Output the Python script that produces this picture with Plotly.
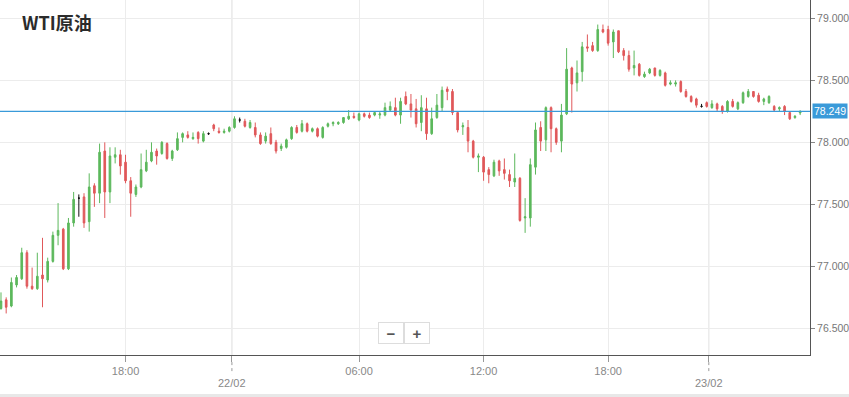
import plotly.graph_objects as go

title_text = "WTI原油"
last_price = 78.249

opens = [76.66, 76.73, 76.68, 76.85, 76.90, 77.11, 76.84, 76.82, 76.93, 76.89,
         77.04, 77.25, 77.30, 76.98, 77.35, 77.55, 77.56, 77.36, 77.65, 77.59,
         77.93, 77.60, 77.88, 77.90, 77.84, 77.69, 77.58, 77.64, 77.77, 77.85,
         77.93, 77.91, 77.99, 77.87, 77.94, 78.04, 78.06, 78.03, 78.08, 78.01,
         78.07, 78.14, 78.09, 78.08, 78.09, 78.12, 78.18, 78.17, 78.12, 78.12,
         78.06, 78.01, 78.07, 78.00, 77.95, 77.96, 78.03, 78.12, 78.09, 78.15,
         78.09, 78.11, 78.04, 78.13, 78.15, 78.15, 78.16, 78.19, 78.21, 78.18,
         78.23, 78.22, 78.22, 78.22, 78.22, 78.26, 78.28, 78.22, 78.37, 78.31,
         78.27, 78.16, 78.27, 78.07, 78.20, 78.28, 78.43, 78.41, 78.24, 78.125,
         78.12, 78.01, 77.88, 77.88, 77.78, 77.73, 77.85, 77.78, 77.74, 77.68,
         77.71, 77.39, 77.39, 77.80, 78.12, 78.02, 78.28, 78.11, 78.01, 78.23,
         78.60, 78.48, 78.57, 78.77, 78.78, 78.74, 78.91, 78.91, 78.81, 78.90,
         78.74, 78.70, 78.60, 78.63, 78.53, 78.56, 78.60, 78.54, 78.56, 78.47,
         78.47, 78.49, 78.41, 78.37, 78.35, 78.29, 78.32, 78.28, 78.31, 78.29,
         78.25, 78.33, 78.27, 78.32, 78.37, 78.41, 78.38, 78.33, 78.32, 78.29,
         78.27, 78.29, 78.24, 78.20, 78.237]
highs = [76.79, 76.75, 76.91, 76.93, 77.15, 77.13, 76.99, 77.11, 77.23, 77.07,
         77.28, 77.51, 77.31, 77.39, 77.60, 77.58, 77.59, 77.75, 77.67, 77.99,
         78.00, 77.96, 77.96, 77.94, 77.90, 77.72, 77.66, 77.91, 77.94, 78.00,
         77.95, 78.01, 78.00, 77.94, 78.08, 78.08, 78.09, 78.08, 78.09, 78.09,
         78.08, 78.15, 78.12, 78.11, 78.13, 78.21, 78.20, 78.19, 78.18, 78.16,
         78.08, 78.08, 78.12, 78.02, 77.99, 78.03, 78.13, 78.14, 78.18, 78.16,
         78.12, 78.12, 78.13, 78.16, 78.17, 78.17, 78.20, 78.26, 78.24, 78.24,
         78.24, 78.24, 78.25, 78.25, 78.32, 78.33, 78.36, 78.36, 78.41, 78.39,
         78.35, 78.38, 78.36, 78.28, 78.39, 78.45, 78.45, 78.43, 78.24, 78.16,
         78.18, 78.02, 77.91, 77.89, 77.80, 77.86, 77.86, 77.87, 77.78, 77.91,
         77.72, 77.55, 77.87, 78.16, 78.17, 78.29, 78.29, 78.12, 78.31, 78.76,
         78.61, 78.66, 78.81, 78.87, 78.81, 78.95, 78.95, 78.94, 78.91, 78.90,
         78.76, 78.74, 78.74, 78.64, 78.57, 78.60, 78.60, 78.59, 78.57, 78.50,
         78.50, 78.50, 78.43, 78.38, 78.36, 78.31, 78.33, 78.34, 78.32, 78.30,
         78.34, 78.35, 78.33, 78.41, 78.43, 78.41, 78.40, 78.36, 78.38, 78.30,
         78.29, 78.30, 78.24, 78.22, 78.26]
lows = [76.65, 76.62, 76.67, 76.83, 76.89, 76.82, 76.81, 76.81, 76.67, 76.87,
        77.03, 77.17, 76.97, 76.97, 77.32, 77.40, 77.31, 77.28, 77.48, 77.51,
        77.39, 77.51, 77.83, 77.74, 77.67, 77.40, 77.56, 77.63, 77.76, 77.84,
        77.82, 77.90, 77.86, 77.85, 77.93, 78.00, 78.03, 78.02, 77.99, 78.00,
        78.06, 78.09, 78.07, 78.07, 78.08, 78.11, 78.16, 78.12, 78.11, 78.04,
        77.98, 77.99, 77.98, 77.91, 77.93, 77.95, 78.02, 78.07, 78.08, 78.08,
        78.08, 78.04, 78.03, 78.12, 78.13, 78.14, 78.15, 78.18, 78.19, 78.17,
        78.20, 78.19, 78.21, 78.19, 78.21, 78.25, 78.21, 78.15, 78.30, 78.20,
        78.12, 78.09, 78.02, 78.06, 78.19, 78.25, 78.34, 78.22, 78.08, 78.06,
        77.92, 77.87, 77.76, 77.69, 77.67, 77.72, 77.73, 77.70, 77.64, 77.64,
        77.36, 77.27, 77.32, 77.74, 77.93, 77.93, 77.92, 77.98, 77.92, 78.22,
        78.24, 78.41, 78.49, 78.73, 78.73, 78.73, 78.88, 78.78, 78.68, 78.72,
        78.66, 78.57, 78.54, 78.53, 78.52, 78.55, 78.53, 78.53, 78.45, 78.46,
        78.45, 78.40, 78.36, 78.32, 78.28, 78.28, 78.28, 78.27, 78.25, 78.23,
        78.24, 78.28, 78.26, 78.31, 78.36, 78.36, 78.32, 78.30, 78.31, 78.25,
        78.25, 78.22, 78.18, 78.19, 78.22]
closes = [76.72, 76.67, 76.87, 76.91, 77.11, 76.84, 76.82, 76.92, 76.90, 77.04,
          77.25, 77.29, 76.98, 77.35, 77.54, 77.55, 77.35, 77.64, 77.59, 77.92,
          77.60, 77.89, 77.90, 77.81, 77.69, 77.59, 77.64, 77.78, 77.84, 77.92,
          77.89, 78.00, 77.87, 77.93, 78.03, 78.07, 78.04, 78.04, 78.03, 78.07,
          78.07, 78.11, 78.08, 78.09, 78.12, 78.19, 78.18, 78.13, 78.16, 78.06,
          77.99, 78.05, 77.99, 77.93, 77.97, 78.02, 78.12, 78.08, 78.15, 78.09,
          78.11, 78.05, 78.12, 78.15, 78.16, 78.16, 78.20, 78.21, 78.20, 78.23,
          78.21, 78.20, 78.24, 78.23, 78.28, 78.29, 78.22, 78.33, 78.31, 78.26,
          78.15, 78.28, 78.07, 78.19, 78.30, 78.42, 78.41, 78.24, 78.10, 78.135,
          78.01, 77.88, 77.89, 77.76, 77.74, 77.84, 77.77, 77.75, 77.69, 77.71,
          77.37, 77.40, 77.82, 78.10, 78.01, 78.28, 78.11, 78.00, 78.22, 78.59,
          78.47, 78.56, 78.77, 78.76, 78.74, 78.91, 78.89, 78.80, 78.89, 78.73,
          78.70, 78.59, 78.62, 78.54, 78.55, 78.59, 78.54, 78.58, 78.46, 78.48,
          78.48, 78.41, 78.37, 78.33, 78.30, 78.29, 78.29, 78.31, 78.27, 78.25,
          78.33, 78.29, 78.32, 78.40, 78.41, 78.37, 78.33, 78.35, 78.37, 78.26,
          78.28, 78.25, 78.19, 78.21, 78.249]

x_tick_vals = [24, 44.5, 69, 93, 117, 136.4]
x_tick_text = ["18:00", "", "06:00", "12:00", "18:00", ""]
date_tick_vals = [44.5, 136.4]
date_tick_text = ["22/02", "23/02"]
y_tick_vals = [76.5, 77.0, 77.5, 78.0, 78.5, 79.0]

GREEN = "#5cb85c"
RED = "#e0585a"
BLUE = "#3a9ad9"
LABEL_FONT = "Liberation Sans, Arial, sans-serif"
X_RANGE = [-0.19, 155.9]

idx = list(range(len(opens)))
is_doji = [o == c for o, c in zip(opens, closes)]

def pick(vals, keep):
    return [v if k else None for v, k in zip(vals, keep)]

normal = [not d for d in is_doji]

fig = go.Figure()
fig.add_trace(go.Candlestick(
    x=idx, open=pick(opens, normal), high=pick(highs, normal),
    low=pick(lows, normal), close=pick(closes, normal),
    increasing=dict(line=dict(color=GREEN, width=1), fillcolor=GREEN),
    decreasing=dict(line=dict(color=RED, width=1), fillcolor=RED),
    hoverinfo="skip", showlegend=False,
))
fig.add_trace(go.Candlestick(
    x=idx, open=pick(opens, is_doji), high=pick(highs, is_doji),
    low=pick(lows, is_doji), close=pick(closes, is_doji),
    increasing=dict(line=dict(color="#111111", width=1), fillcolor="#111111"),
    decreasing=dict(line=dict(color="#111111", width=1), fillcolor="#111111"),
    hoverinfo="skip", showlegend=False,
))
# last price line across the plot
fig.add_trace(go.Scatter(
    x=X_RANGE, y=[last_price, last_price], mode="lines",
    line=dict(color=BLUE, width=1.2), hoverinfo="skip", showlegend=False,
    cliponaxis=False,
))

shapes = []
# darker day-separator grid lines
for dv in date_tick_vals:
    shapes.append(dict(type="line", xref="x", yref="paper", x0=dv, x1=dv, y0=0, y1=1,
                       line=dict(color="#d9d9d9", width=1), layer="below"))
    shapes.append(dict(type="line", xref="x", yref="paper", x0=dv, x1=dv, y0=-0.02, y1=-0.054,
                       line=dict(color="#999999", width=1, dash="dot")))
# bottom grey band
shapes.append(dict(type="rect", xref="paper", yref="paper", x0=-0.01, x1=1.06, y0=-0.125, y1=-0.11,
                   fillcolor="#e8e8e8", line=dict(width=0)))

annotations = [
    dict(text="<b>" + title_text + "</b>", xref="paper", yref="paper", x=20/810, y=1 - 22/355,
         xanchor="left", yanchor="middle", showarrow=False,
         font=dict(family="Noto Sans CJK SC, sans-serif", size=18, color="#2b2b2b")),
    dict(text=f"{last_price:.3f}", xref="paper", yref="y", x=1, y=last_price, xanchor="left",
         yanchor="middle", xshift=2, showarrow=False, bgcolor=BLUE, borderpad=1,
         font=dict(family=LABEL_FONT, size=10.5, color="white")),
    dict(text="<b>−</b>", xref="paper", yref="paper", x=391/810, y=(355-333)/355,
         xanchor="center", yanchor="middle", showarrow=False, width=22, height=18,
         bgcolor="white", bordercolor="#dddddd", borderwidth=1, borderpad=1,
         font=dict(family=LABEL_FONT, size=15, color="#555555")),
    dict(text="<b>+</b>", xref="paper", yref="paper", x=417/810, y=(355-333)/355,
         xanchor="center", yanchor="middle", showarrow=False, width=22, height=18,
         bgcolor="white", bordercolor="#dddddd", borderwidth=1, borderpad=1,
         font=dict(family=LABEL_FONT, size=15, color="#555555")),
]
for dv, dt in zip(date_tick_vals, date_tick_text):
    annotations.append(dict(text=dt, xref="x", yref="paper", x=dv, y=(355-383)/355,
                            xanchor="center", yanchor="middle", showarrow=False,
                            font=dict(family=LABEL_FONT, size=11, color="#888888")))

fig.update_layout(
    width=849, height=397, autosize=False,
    margin=dict(l=0, r=39, t=0, b=42),
    paper_bgcolor="white", plot_bgcolor="white",
    boxgap=0.55,
    showlegend=False,
    shapes=shapes,
    annotations=annotations,
    xaxis=dict(
        range=X_RANGE, rangeslider=dict(visible=False),
        tickmode="array", tickvals=x_tick_vals, ticktext=x_tick_text,
        showgrid=True, gridcolor="#ececec", gridwidth=1,
        ticks="outside", ticklen=6, tickcolor="#999999",
        showline=True, linecolor="#555555", linewidth=1,
        tickfont=dict(family=LABEL_FONT, size=11, color="#888888"),
        zeroline=False, fixedrange=True,
    ),
    yaxis=dict(
        side="right", range=[76.285, 79.148],
        tickmode="array", tickvals=y_tick_vals, tickformat=".3f",
        showgrid=True, gridcolor="#ececec", gridwidth=1,
        ticks="outside", ticklen=4, tickcolor="#888888",
        showline=True, linecolor="#555555", linewidth=1,
        tickfont=dict(family=LABEL_FONT, size=10.5, color="#777777"),
        zeroline=False, fixedrange=True,
    ),
)

fig.write_html("out.html", config={"displayModeBar": False},
               post_script="document.body.style.margin='0';")
